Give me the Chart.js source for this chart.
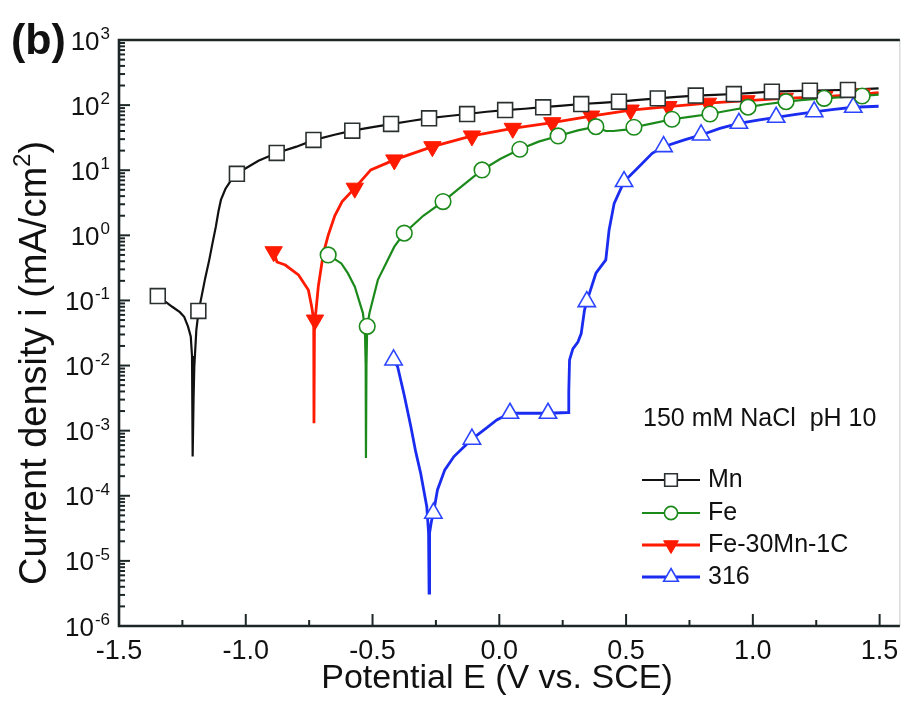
<!DOCTYPE html>
<html>
<head>
<meta charset="utf-8">
<script src="https://cdn.jsdelivr.net/npm/chart.js@4.4.0/dist/chart.umd.min.js"></script>
<style>
  html, body { margin: 0; padding: 0; background: #fff; }
</style>
</head>
<body>
<canvas id="chart" width="912" height="718"></canvas>
<script>
// Potential E (V vs. SCE) and current density i (mA/cm2)

// Mn
const mnLineE = [-1.347, -1.32, -1.29, -1.26, -1.243, -1.228, -1.217, -1.212, -1.210, -1.209, -1.206, -1.203, -1.195, -1.186, -1.177, -1.160, -1.144, -1.130, -1.118, -1.108, -1.098, -1.080, -1.066, -1.050, -1.033, -0.95, -0.878, -0.80, -0.733, -0.65, -0.580, -0.50, -0.427, -0.35, -0.277, -0.20, -0.127, -0.05, 0.023, 0.10, 0.173, 0.25, 0.323, 0.40, 0.472, 0.55, 0.625, 0.70, 0.775, 0.85, 0.925, 1.0, 1.075, 1.15, 1.225, 1.30, 1.375, 1.496];
const mnLineI = [0.117, 0.098, 0.080, 0.066, 0.056, 0.040, 0.028, 0.014, 0.005, 0.0004, 0.003, 0.0096, 0.035, 0.069, 0.102, 0.22, 0.42, 0.8, 1.36, 2.3, 3.5, 5.2, 6.3, 7.8, 9.0, 14, 18.4, 23, 29, 35, 40.5, 46, 51, 57, 63, 68, 73, 79, 84, 88, 93, 98, 104, 108, 113, 120, 127, 134, 140, 144, 148, 154, 161, 164, 167, 169, 172, 181];
const mnMarkE = [-1.347, -1.187, -1.035, -0.878, -0.733, -0.580, -0.427, -0.277, -0.127, 0.023, 0.173, 0.323, 0.472, 0.625, 0.775, 0.925, 1.075, 1.225, 1.375];
const mnMarkI = [0.117, 0.069, 8.8, 18.4, 29.2, 40.5, 51.3, 62.8, 73, 84, 92.6, 104, 113, 127, 140, 148, 161, 167, 171];

// Fe
const feLineE = [-0.675, -0.623, -0.597, -0.570, -0.538, -0.530, -0.527, -0.526, -0.524, -0.521, -0.512, -0.479, -0.414, -0.375, -0.30, -0.222, -0.145, -0.068, 0.005, 0.081, 0.155, 0.232, 0.31, 0.381, 0.42, 0.45, 0.50, 0.531, 0.60, 0.681, 0.75, 0.831, 0.90, 0.981, 1.05, 1.131, 1.20, 1.281, 1.35, 1.431, 1.496];
const feLineI = [0.5, 0.37, 0.26, 0.163, 0.064, 0.035, 0.01, 0.00038, 0.01, 0.04, 0.064, 0.207, 0.67, 1.08, 2.0, 3.3, 5.8, 10.1, 15, 21, 27.5, 33.6, 41, 46.7, 40, 40, 42, 45.7, 52, 60.6, 66, 73, 82, 93, 103, 113, 120, 127, 132, 138, 145];
const feMarkE = [-0.675, -0.521, -0.375, -0.222, -0.068, 0.081, 0.232, 0.381, 0.531, 0.681, 0.831, 0.981, 1.131, 1.281, 1.431];
const feMarkI = [0.5, 0.04, 1.08, 3.3, 10.1, 21, 33.6, 46.7, 45.7, 60.6, 73, 93, 113, 127, 138];

// Fe-30Mn-1C
const fmLineE = [-0.890, -0.877, -0.844, -0.792, -0.753, -0.740, -0.732, -0.731, -0.729, -0.724, -0.714, -0.694, -0.675, -0.649, -0.620, -0.570, -0.507, -0.414, -0.264, -0.108, 0.053, 0.209, 0.362, 0.518, 0.667, 0.823, 0.975, 1.126, 1.282, 1.431, 1.496];
const fmLineI = [0.56, 0.39, 0.35, 0.246, 0.145, 0.080, 0.05, 0.0013, 0.05, 0.064, 0.163, 0.53, 1.0, 2.0, 3.3, 5.3, 10.1, 14.4, 23, 33.6, 44, 53.7, 68, 84, 95, 107, 117, 127, 135, 148, 155];
const fmMarkE = [-0.890, -0.727, -0.570, -0.414, -0.264, -0.108, 0.053, 0.209, 0.362, 0.518, 0.667, 0.823, 0.975, 1.126, 1.282, 1.431];
const fmMarkI = [0.56, 0.05, 5.3, 14.4, 23, 33.6, 44, 53.7, 68, 84, 95, 107, 117, 127, 135, 148];

// 316
const ssLineE = [-0.417, -0.401, -0.375, -0.349, -0.330, -0.310, -0.286, -0.279, -0.277, -0.275, -0.268, -0.260, -0.244, -0.215, -0.179, -0.108, -0.050, -0.010, 0.042, 0.192, 0.271, 0.274, 0.277, 0.290, 0.310, 0.323, 0.336, 0.345, 0.381, 0.420, 0.433, 0.453, 0.492, 0.538, 0.603, 0.648, 0.727, 0.796, 0.87, 0.945, 1.02, 1.092, 1.17, 1.242, 1.32, 1.396, 1.496];
const ssLineI = [0.0122, 0.0096, 0.0035, 0.00116, 0.00048, 0.00022, 0.000068, 0.000027, 0.0000032, 0.000027, 0.00004, 0.000054, 0.000123, 0.00025, 0.0004, 0.00074, 0.0011, 0.00146, 0.00185, 0.00185, 0.0019, 0.004, 0.0122, 0.018, 0.023, 0.031, 0.071, 0.096, 0.262, 0.42, 1.21, 3.1, 6.7, 10.1, 18.2, 23, 29, 34.8, 44, 52.6, 59, 65, 72, 79, 86, 92.7, 96];
const ssMarkE = [-0.417, -0.260, -0.108, 0.042, 0.192, 0.345, 0.492, 0.648, 0.796, 0.945, 1.092, 1.242, 1.396];
const ssMarkI = [0.0122, 0.000054, 0.00074, 0.00185, 0.00185, 0.096, 6.7, 23, 34.8, 52.6, 65, 79, 92.7];

const seriesNames = ["Mn", "Fe", "Fe-30Mn-1C", "316"];
const xTicks = [-1.5, -1.0, -0.5, 0, 0.5, 1.0, 1.5];
const xTickLabels = ["-1.5", "-1.0", "-0.5", "0.0", "0.5", "1.0", "1.5"];
const yExponents = [-6, -5, -4, -3, -2, -1, 0, 1, 2, 3];

// styles, one per series
const styles = [
    { line: "#111111", width: 2.2, pointStyle: "rect", radius: 10.5, rotation: 0, fill: "#ffffff", edge: "#2a3030", edgeWidth: 1.6 },
    { line: "#1b8a1b", width: 2.2, pointStyle: "circle", radius: 7.8, rotation: 0, fill: "#ffffff", edge: "#1b8a1b", edgeWidth: 1.6 },
    { line: "#ff1a00", width: 2.8, pointStyle: "triangle", radius: 10, rotation: 180, fill: "#ff1a00", edge: "#ff1a00", edgeWidth: 1 },
    { line: "#1a2cf0", width: 2.8, pointStyle: "triangle", radius: 10, rotation: 0, fill: "#ffffff", edge: "#2a44ff", edgeWidth: 1.6 },
];

const FONT = "'Liberation Sans', Arial, sans-serif";

function toPoints(xs, ys) {
    return xs.map((x, k) => ({ x: x, y: ys[k] }));
}

const lineSets = [[mnLineE, mnLineI], [feLineE, feLineI], [fmLineE, fmLineI], [ssLineE, ssLineI]];
const markSets = [[mnMarkE, mnMarkI], [feMarkE, feMarkI], [fmMarkE, fmMarkI], [ssMarkE, ssMarkI]];

let datasets = [];
seriesNames.forEach((name, k) => {
    const s = styles[k];
    datasets.push({
        label: name,
        data: toPoints(lineSets[k][0], lineSets[k][1]),
        showLine: true,
        borderColor: s.line,
        borderWidth: s.width,
        pointRadius: 0,
        tension: 0,
        order: 2,
    });
    datasets.push({
        label: name + " markers",
        data: toPoints(markSets[k][0], markSets[k][1]),
        showLine: false,
        pointStyle: s.pointStyle,
        pointRadius: s.radius,
        pointRotation: s.rotation,
        pointBackgroundColor: s.fill,
        pointBorderColor: s.edge,
        pointBorderWidth: s.edgeWidth,
        order: 1,
    });
});

function strokeLine(ctx, x1, y1, x2, y2) {
    ctx.beginPath();
    ctx.moveTo(x1, y1);
    ctx.lineTo(x2, y2);
    ctx.stroke();
}

// axes, labels, legend and notes
const decorations = {
    id: "decorations",
    afterDraw(chart) {
        const ctx = chart.ctx;
        const xs = chart.scales.x;
        const ys = chart.scales.y;
        const a = chart.chartArea;
        ctx.save();

        // frame
        ctx.strokeStyle = "#c8c8c8";
        ctx.lineWidth = 1;
        strokeLine(ctx, a.right, a.top, a.right, a.bottom);
        ctx.strokeStyle = "#1d2626";
        ctx.lineWidth = 2.6;
        ctx.beginPath();
        ctx.moveTo(a.right, a.top);
        ctx.lineTo(a.left, a.top);
        ctx.lineTo(a.left, a.bottom);
        ctx.lineTo(a.right, a.bottom);
        ctx.stroke();

        // y ticks (inward)
        ctx.lineWidth = 2;
        yExponents.forEach((e, k) => {
            const y = ys.getPixelForValue(Math.pow(10, e));
            strokeLine(ctx, a.left, y, a.left + 11, y);
            if (k < yExponents.length - 1) {
                for (let m = 2; m <= 9; m++) {
                    const ym = ys.getPixelForValue(m * Math.pow(10, e));
                    strokeLine(ctx, a.left, ym, a.left + 6, ym);
                }
            }
        });

        // x ticks (inward)
        xTicks.forEach((v, k) => {
            const x = xs.getPixelForValue(v);
            strokeLine(ctx, x, a.bottom, x, a.bottom - 12);
            if (k < xTicks.length - 1) {
                const xm = xs.getPixelForValue(v + 0.25);
                strokeLine(ctx, xm, a.bottom, xm, a.bottom - 6);
            }
        });

        ctx.fillStyle = "#111111";

        // y tick labels 10^n
        yExponents.forEach((e) => {
            const y = ys.getPixelForValue(Math.pow(10, e));
            const sup = String(e);
            ctx.font = "17px " + FONT;
            const supW = ctx.measureText(sup).width;
            const right = a.left - 9;
            ctx.textAlign = "left";
            ctx.textBaseline = "alphabetic";
            ctx.fillText(sup, right - supW, y - 1);
            ctx.font = "26px " + FONT;
            ctx.textAlign = "right";
            ctx.fillText("10", right - supW - 1, y + 9.5);
        });

        // x tick labels
        ctx.font = "27px " + FONT;
        ctx.textAlign = "center";
        ctx.textBaseline = "middle";
        xTicks.forEach((v, k) => {
            ctx.fillText(xTickLabels[k], xs.getPixelForValue(v), 652);
        });

        // x title
        ctx.font = "34px " + FONT;
        ctx.fillText("Potential E (V vs. SCE)", 497, 679);

        // y title
        ctx.save();
        ctx.translate(36, 363);
        ctx.rotate(-Math.PI / 2);
        ctx.textBaseline = "middle";
        const t1 = "Current density i (mA/cm";
        const t2 = ")";
        ctx.font = "24px " + FONT;
        const w2s = ctx.measureText("2").width;
        ctx.font = "38px " + FONT;
        const w1 = ctx.measureText(t1).width;
        const w3 = ctx.measureText(t2).width;
        let x0 = -(w1 + w2s + w3) / 2;
        ctx.textAlign = "left";
        ctx.fillText(t1, x0, 0);
        ctx.font = "24px " + FONT;
        ctx.fillText("2", x0 + w1, -13);
        ctx.font = "38px " + FONT;
        ctx.fillText(t2, x0 + w1 + w2s, 0);
        ctx.restore();

        // panel letter
        ctx.font = "bold 43px " + FONT;
        ctx.textAlign = "left";
        ctx.textBaseline = "alphabetic";
        ctx.fillText("(b)", 11, 54);

        // condition note
        ctx.font = "25px " + FONT;
        ctx.fillText("150 mM NaCl  pH 10", 643, 426);

        // legend
        const rows = [480, 513, 545, 577];
        seriesNames.forEach((name, k) => {
            const s = styles[k];
            const y = rows[k];
            ctx.strokeStyle = s.line;
            ctx.lineWidth = s.width;
            strokeLine(ctx, 642, y, 700, y);
            ctx.fillStyle = s.fill;
            ctx.strokeStyle = s.edge;
            ctx.lineWidth = s.edgeWidth;
            Chart.helpers.drawPoint(ctx, {
                pointStyle: s.pointStyle,
                radius: s.radius * 0.85,
                rotation: s.rotation,
                borderWidth: s.edgeWidth,
            }, 671, y);
            ctx.fillStyle = "#111111";
            ctx.font = "25px " + FONT;
            ctx.textBaseline = "middle";
            ctx.fillText(name, 708, y);
        });

        ctx.restore();
    },
};

new Chart(document.getElementById("chart"), {
    type: "scatter",
    data: { datasets: datasets },
    options: {
        responsive: false,
        animation: false,
        layout: { padding: { left: 0, top: 40, right: 5, bottom: 0 } },
        plugins: {
            legend: { display: false },
            tooltip: { enabled: false },
        },
        scales: {
            x: {
                type: "linear",
                min: -1.5,
                max: 1.58,
                grid: { display: false },
                border: { display: false },
                ticks: { display: false },
                afterFit: (s) => { s.height = 92; },
            },
            y: {
                type: "logarithmic",
                min: 1e-6,
                max: 1e3,
                grid: { display: false },
                border: { display: false },
                ticks: { display: false },
                afterFit: (s) => { s.width = 119; },
            },
        },
    },
    plugins: [decorations],
});
</script>
</body>
</html>
